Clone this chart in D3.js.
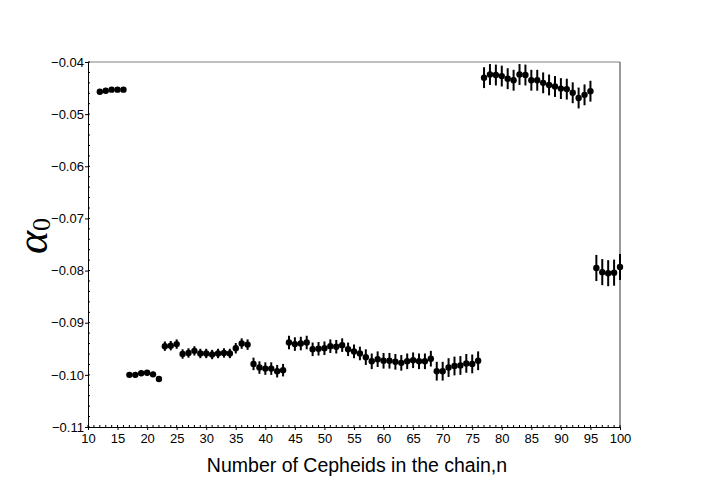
<!DOCTYPE html>
<html><head><meta charset="utf-8">
<script src="https://cdn.jsdelivr.net/npm/d3@7"></script>
<style>body{margin:0;background:#fff}svg{display:block}</style>
</head><body><svg id="c" width="708" height="487"></svg>
<script>
const nValues = [12,13,14,15,16,17,18,19,20,21,22,23,24,25,26,27,28,29,30,31,32,33,34,35,36,37,38,39,40,41,42,43,44,45,46,47,48,49,50,51,52,53,54,55,56,57,58,59,60,61,62,63,64,65,66,67,68,69,70,71,72,73,74,75,76,77,78,79,80,81,82,83,84,85,86,87,88,89,90,91,92,93,94,95,96,97,98,99,100];
const alphaValues = [
-0.0457,-0.0455,-0.0453,-0.0453,-0.0453,
-0.1000,-0.1000,-0.0997,-0.0996,-0.0999,-0.1008,
-0.0945,-0.0944,-0.0941,
-0.0960,-0.0958,-0.0954,-0.0959,-0.0959,-0.0961,-0.0959,-0.0958,-0.0959,
-0.0949,-0.0940,-0.0942,
-0.0979,-0.0986,-0.0988,-0.0988,-0.0993,-0.0991,
-0.0938,-0.0941,-0.0940,-0.0938,-0.0951,-0.0950,-0.0949,-0.0945,-0.0946,-0.0943,-0.0951,-0.0955,-0.0959,
-0.0966,-0.0974,-0.0970,-0.0973,-0.0973,-0.0975,-0.0977,-0.0974,-0.0972,-0.0974,-0.0974,-0.0969,
-0.0993,-0.0993,-0.0986,-0.0983,-0.0982,-0.0978,-0.0979,-0.0973,
-0.0430,-0.0424,-0.0425,-0.0427,-0.0432,-0.0435,-0.0424,-0.0425,-0.0435,-0.0435,-0.0440,-0.0444,-0.0447,-0.0451,-0.0452,-0.0459,-0.0469,-0.0463,-0.0456,
-0.0795,-0.0803,-0.0805,-0.0804,-0.0793];
const errValues = [
0.0002,0.0002,0.0002,0.0002,0.0002,
0.0005,0.0005,0.0005,0.0005,0.0005,0.0005,
0.0009,0.0009,0.0009,
0.0009,0.0009,0.0009,0.0009,0.0009,0.0009,0.0009,0.0009,0.0009,
0.0010,0.0010,0.0010,
0.0012,0.0012,0.0012,0.0012,0.0012,0.0012,
0.0013,0.0013,0.0013,0.0013,0.0013,0.0013,0.0013,0.0013,0.0013,0.0013,0.0013,0.0013,0.0013,
0.0015,0.0015,0.0015,0.0015,0.0015,0.0015,0.0015,0.0015,0.0015,0.0015,0.0015,0.0015,
0.0018,0.0018,0.0018,0.0018,0.0018,0.0018,0.0018,0.0018,
0.0020,0.0020,0.0020,0.0020,0.0020,0.0020,0.0020,0.0020,0.0020,0.0020,0.0020,0.0020,0.0020,0.0020,0.0020,0.0020,0.0020,0.0020,0.0020,
0.0025,0.0025,0.0025,0.0025,0.0025];
const xTicks = [10,15,20,25,30,35,40,45,50,55,60,65,70,75,80,85,90,95,100];
const yTicks = [-0.04,-0.05,-0.06,-0.07,-0.08,-0.09,-0.10,-0.11];
const xLabel = "Number of Cepheids in the chain,n";

const svg = d3.select("#c");
const L=88,R=620,T=62,B=427;
const x = d3.scaleLinear().domain([10,100]).range([L,R]);
const y = d3.scaleLinear().domain([-0.11,-0.04]).range([B,T]);
const font = "'Liberation Sans', Arial, sans-serif";

// frame top/right
svg.append("line").attr("x1",L).attr("x2",R).attr("y1",T).attr("y2",T).attr("stroke","#808080").attr("stroke-width",1.2);
svg.append("line").attr("x1",R).attr("x2",R).attr("y1",T).attr("y2",B).attr("stroke","#555").attr("stroke-width",1.2);

// x axis
const xa = svg.append("g").attr("transform",`translate(0,${B})`);
xa.call(d3.axisBottom(x).tickValues(xTicks).tickSize(3).tickFormat(d3.format("d")));
xa.select(".domain").attr("stroke","#000");
xa.selectAll("text").attr("font-family",font).attr("font-size",13).attr("fill","#000").attr("dy","0.8em");
xa.selectAll(".minor").data(d3.range(10,101,1)).enter().append("line")
  .attr("x1",d=>x(d)).attr("x2",d=>x(d)).attr("y1",0).attr("y2",-2).attr("stroke","#000");

// y axis
const ya = svg.append("g").attr("transform",`translate(${L},0)`);
ya.call(d3.axisLeft(y).tickValues(yTicks).tickSize(3).tickFormat(d=>"\u2212"+Math.abs(d).toFixed(2)));
ya.select(".domain").attr("stroke","#000");
ya.selectAll("text").attr("font-family",font).attr("font-size",13).attr("fill","#000").attr("dx","0.15em");
ya.selectAll(".minor").data(d3.range(-0.11,-0.0399,0.002)).enter().append("line")
  .attr("x1",0).attr("x2",2).attr("y1",d=>y(d)).attr("y2",d=>y(d)).attr("stroke","#000");

// labels
svg.append("text").attr("x",357).attr("y",472).attr("text-anchor","middle")
  .attr("font-family",font).attr("font-size",19.5).attr("fill","#000").text(xLabel);
const yl = svg.append("text").attr("transform","translate(47,236) rotate(-90)").attr("text-anchor","middle")
  .attr("font-family","'Liberation Serif', 'DejaVu Serif', serif").attr("fill","#000");
yl.append("tspan").attr("font-size",44).attr("font-style","italic").text("\u03B1");
yl.append("tspan").attr("font-size",26).attr("dy",3).text("0");

// data
const data = nValues.map((n,i)=>({n,v:alphaValues[i],e:errValues[i]}));
const g = svg.append("g");
g.selectAll(".eb").data(data).enter().append("line")
  .attr("x1",d=>x(d.n)).attr("x2",d=>x(d.n)).attr("y1",d=>y(d.v-d.e)).attr("y2",d=>y(d.v+d.e))
  .attr("stroke","#000").attr("stroke-width",2);
g.selectAll(".pt").data(data).enter().append("circle")
  .attr("cx",d=>x(d.n)).attr("cy",d=>y(d.v)).attr("r",3.2).attr("fill","#000");
</script></body></html>
